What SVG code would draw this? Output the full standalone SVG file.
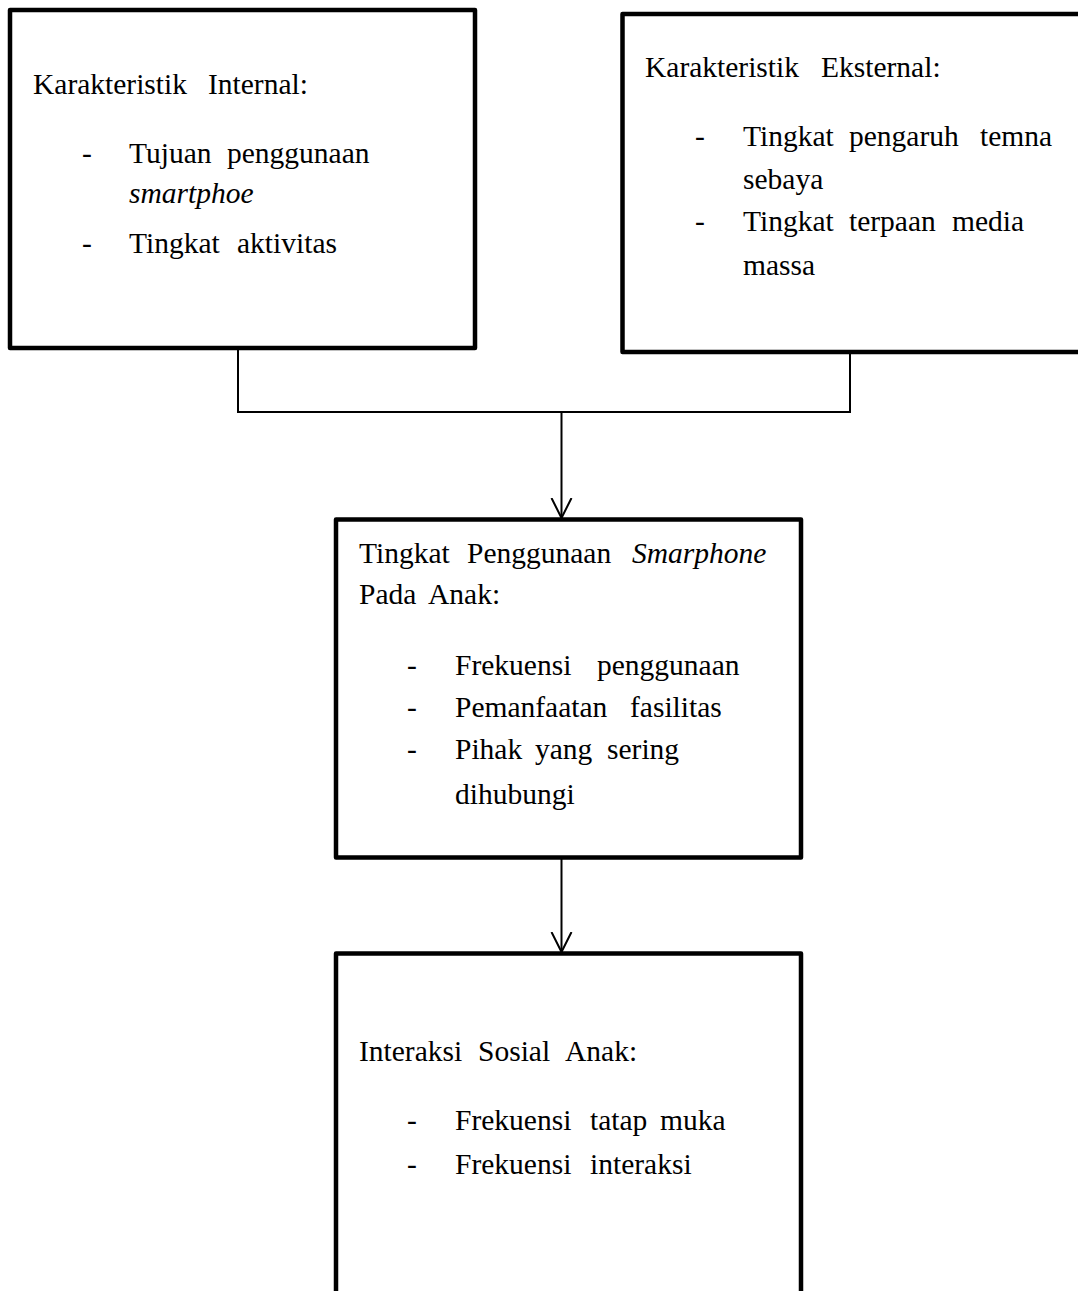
<svg xmlns="http://www.w3.org/2000/svg" width="1078" height="1291" viewBox="0 0 1078 1291">
<defs>
<style>
.box{fill:#fff;stroke:#000;stroke-width:4.5;stroke-linejoin:round}
.con{fill:none;stroke:#000;stroke-width:2}
text{font-family:"Liberation Serif","Times New Roman",serif;font-size:29.5px;fill:#000}
.it{font-style:italic}
</style>
<marker id="arr" viewBox="0 0 24 24" markerWidth="24" markerHeight="24" refX="20" refY="12" orient="auto" markerUnits="userSpaceOnUse">
<path d="M0,2 L20,12 L0,22" fill="none" stroke="#000" stroke-width="2"/>
</marker>
</defs>
<rect width="1078" height="1291" fill="#fff"/>
<g id="connectors">
<polyline class="con" points="238,350 238,412 850,412 850,354"/>
<line class="con" x1="561.5" y1="412" x2="561.5" y2="518" marker-end="url(#arr)"/>
<line class="con" x1="561.5" y1="859" x2="561.5" y2="952" marker-end="url(#arr)"/>
</g>
<g id="internal">
<rect class="box" x="10" y="10" width="465" height="338"/>
<text y="94"><tspan x="33">Karakteristik</tspan><tspan x="208">Internal:</tspan></text>
<text x="82" y="163">-</text>
<text y="163"><tspan x="129">Tujuan</tspan><tspan x="227">penggunaan</tspan></text>
<text class="it" x="129" y="203">smartphoe</text>
<text x="82" y="253">-</text>
<text y="253"><tspan x="129">Tingkat</tspan><tspan x="237">aktivitas</tspan></text>
</g>
<g id="eksternal">
<rect class="box" x="622.5" y="14" width="470" height="338"/>
<text y="77"><tspan x="645">Karakteristik</tspan><tspan x="821">Eksternal:</tspan></text>
<text x="695" y="146">-</text>
<text y="146"><tspan x="743">Tingkat</tspan><tspan x="849">pengaruh</tspan><tspan x="980">temna</tspan></text>
<text x="743" y="189">sebaya</text>
<text x="695" y="231">-</text>
<text y="231"><tspan x="743">Tingkat</tspan><tspan x="849">terpaan</tspan><tspan x="952">media</tspan></text>
<text x="743" y="275">massa</text>
</g>
<g id="penggunaan">
<rect class="box" x="336" y="519.5" width="465" height="338"/>
<text y="563"><tspan x="359">Tingkat</tspan><tspan x="467">Penggunaan</tspan><tspan class="it" x="632">Smarphone</tspan></text>
<text y="604"><tspan x="359">Pada</tspan><tspan x="428">Anak:</tspan></text>
<text x="407" y="675">-</text>
<text y="675"><tspan x="455">Frekuensi</tspan><tspan x="597">penggunaan</tspan></text>
<text x="407" y="717">-</text>
<text y="717"><tspan x="455">Pemanfaatan</tspan><tspan x="630">fasilitas</tspan></text>
<text x="407" y="759">-</text>
<text y="759"><tspan x="455">Pihak</tspan><tspan x="535">yang</tspan><tspan x="607">sering</tspan></text>
<text x="455" y="804">dihubungi</text>
</g>
<g id="interaksi">
<rect class="box" x="336" y="953.5" width="465" height="360"/>
<text y="1061"><tspan x="359">Interaksi</tspan><tspan x="478">Sosial</tspan><tspan x="565">Anak:</tspan></text>
<text x="407" y="1130">-</text>
<text y="1130"><tspan x="455">Frekuensi</tspan><tspan x="590">tatap</tspan><tspan x="660">muka</tspan></text>
<text x="407" y="1174">-</text>
<text y="1174"><tspan x="455">Frekuensi</tspan><tspan x="590">interaksi</tspan></text>
</g>
</svg>
